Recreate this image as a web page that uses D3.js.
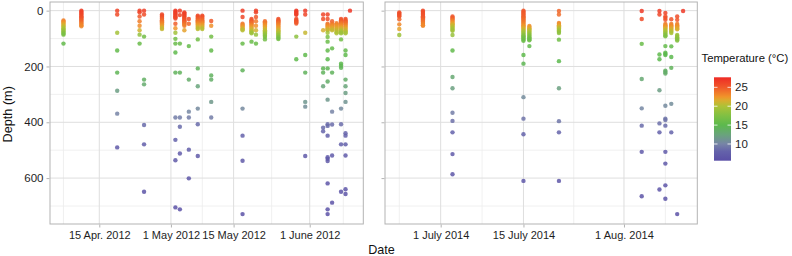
<!DOCTYPE html>
<html><head><meta charset="utf-8">
<script src="https://cdn.jsdelivr.net/npm/d3@7"></script>
<style>
html,body{margin:0;padding:0;background:#fff;}
svg text{font-family:"Liberation Sans",Arial,Helvetica,sans-serif;}
</style></head>
<body><svg id="c" width="792" height="256"></svg>
<script>
// ---------- DATA ----------
const profileDates = [
 "2012-04-07","2012-04-11","2012-04-19","2012-04-24","2012-04-25","2012-04-29","2012-05-02","2012-05-03",
 "2012-05-04","2012-05-05","2012-05-07","2012-05-08","2012-05-10","2012-05-17","2012-05-19","2012-05-20",
 "2012-05-22","2012-05-25","2012-05-29","2012-05-31","2012-06-04","2012-06-05","2012-06-06","2012-06-07",
 "2012-06-08","2012-06-09","2012-06-10",
 "2014-06-24","2014-06-28","2014-07-03","2014-07-15","2014-07-16","2014-07-21","2014-08-04","2014-08-07",
 "2014-08-08","2014-08-09","2014-08-10","2014-08-11"
];
const profileDepths = [
 [35,39,43,47,51,55,59,63,67,71,75,79,83,86,118],
 [0,4,8,12,16,20,24,28,32,36,40,44,48,52,56],
 [0,14,79,143,222,287,369,490],
 [0,6,21,38,54,70,86,118],
 [0,14,93,247,264,410,479,649],
 [14,18,22,26,30,34,38,42,46,50,54,58,62,66],
 [0,4,8,12,16,20,24,28,47,63,79,101,118,150,222,383,463,536,705],
 [0,16,118,222,383,416,512,712],
 [6,10,14,18,22,26,30,34,38,42,46,50,54,70],
 [30,47,127,247,362,383,498,601],
 [18,22,26,30,34,38,42,46,50,54,58,62,66,103,207,271,351,407,521],
 [18,22,26,30,34,38,42,46,50,54,58,62,66],
 [37,54,93,143,232,247,327,383],
 [0,23,47,51,55,59,63,67,70,118,214,351,448,538,729],
 [30,34,38,42,46,50,54,58,62,66,70,74,78,81,111],
 [0,6,23,38,54,70,86,118],
 [38,42,46,50,54,58,62,66,70,74,78,82,86,90,94,103],
 [30,34,38,42,46,50,54,58,62,66,70,74,78,82,86,90,94,98,102],
 [0,4,8,12,15,30,34,38,42,46,93,174],
 [0,14,79,159,222,327,344,521],
 [14,30,70,207,222,271,419,432],
 [14,30,47,51,55,59,63,67,70,79,94,111,143,174,207,254,319,407,413,448,525,531,539,619,712,729],
 [38,47,51,55,59,63,67,70,135,222,362,408,519,688],
 [45,49,53,57,61,65,69,73,77,81],
 [30,34,38,42,46,50,54,58,62,66,70,74,78,81,103,190,197,205,351,407,479,649],
 [30,34,38,42,46,50,54,58,62,66,70,74,78,81,143,159,247,271,295,327,439,448,479,519,640,657],
 [0],
 [6,10,14,18,21,31,49,66,87],
 [0,4,8,12,16,20,24,28,32,36,40,44,48,52,54],
 [21,25,29,33,37,41,45,49,53,57,61,65,69,72,87,143,238,278,366,395,436,514,586],
 [0,4,8,12,16,20,24,28,32,36,40,44,48,52,56,60,64,68,72,76,80,84,88,92,96,100,104,108,159,190,310,387,443,610],
 [55,59,63,67,71,75,79,83,87,91,95,99,103,106,127],
 [1,14,44,48,52,56,60,64,68,72,76,80,104,181,278,396,436,610],
 [1,30,119,245,350,412,506,665],
 [1,14,157,174,285,404,436,641],
 [8,21,26,33,48,52,56,60,64,68,72,76,80,84,88,92,127,151,155,159,215,220,225,341,387,392,412,506,548,626,674],
 [31,48,52,56,60,64,68,72,76,80,128,166,205,334,436],
 [21,33,48,52,56,60,64,67,87,91,95,99,103,107,729],
 [1]
];
const profileTemps = [
 [23.5,23,22.5,22,21.5,21,20.5,20,19.5,19,18.5,18,17.5,17,15.5],
 [26.5,26.4,26.3,26.2,26,25.8,25.6,25.3,25,24.7,24.4,24,23.6,23.2,23],
 [26.2,25.8,19.5,15.5,14.5,12,10,7],
 [26.5,26.2,25,23.5,22.8,21.2,18.5,15.8],
 [26.5,25.8,16.5,13.8,13.2,8.5,7.5,6.3],
 [26,25.8,25.5,25.2,24.8,24.4,24,23.6,23.2,22.8,22.3,21.8,21.3,20.8],
 [26.8,26.7,26.6,26.5,26.4,26.3,26.1,26,24.8,22.5,19.3,16.5,15.8,15.2,14.2,9.5,8,7,6],
 [26.6,26,15.8,14.2,9.5,8.5,7.2,6],
 [26.6,26.5,26.4,26.3,26.1,25.9,25.6,25.3,25,24.6,24.2,23.8,23.4,22],
 [25.8,24.5,15.6,13.5,10.2,9.6,7.5,6.6],
 [26,25.7,25.3,24.9,24.5,24,23.5,23,22.5,22,21.5,21,20.5,16.5,14.3,12.5,10.5,8.5,7],
 [25.9,25.6,25.2,24.8,24.4,24,23.5,23,22.5,22,21.5,21,20.3],
 [25,22.7,16.6,15.5,14,13.6,11.6,9.6],
 [26.6,26,23.8,23.2,22.7,22.2,21.6,21,20.3,15.8,14.3,10.4,8,7,6],
 [25.5,25.2,24.8,24.4,24,23.5,23,22.5,22,21.5,21,20.3,19.6,19,16],
 [26.5,26.2,25,23.6,22.6,21.3,18.7,15.9],
 [24.2,23.8,23.4,23,22.6,22.2,21.8,21.3,20.8,20.3,19.8,19.2,18.7,18.2,17.6,16.6],
 [25.6,25.2,24.8,24.3,23.8,23.4,23,22.6,22.2,21.8,21.3,20.8,20.2,19.6,19,18.4,17.8,17.2,16.6],
 [26.8,26.7,26.6,26.5,26.4,25.8,25.6,25.4,25.2,25,18.2,15.2],
 [26.7,26.2,20.8,15.2,14.2,11.4,10.8,7.1],
 [26.2,25.6,21.4,14.5,14.2,12.6,8.5,8.2],
 [26.2,25.6,24,23.5,23,22.5,22,21.5,21,19.5,17,16,15.5,15,14.5,13.6,11.5,8.6,8.5,8,7.1,7,7,6.5,6.1,6],
 [24.8,23.8,23.3,22.8,22.3,21.8,21.3,20.8,15.6,14.2,10,8.6,7.1,6.2],
 [23.6,23.2,22.8,22.4,22,21.6,21.2,20.8,20.4,20],
 [25.6,25.2,24.8,24.3,23.8,23.3,22.8,22.3,21.8,21.2,20.6,20,19.4,19,16.5,15,14.8,14.5,10.5,8.6,7.6,6.4],
 [25.6,25.3,24.9,24.5,24.1,23.6,23.1,22.6,22.1,21.6,21.1,20.6,20.1,19.7,15.5,15.2,13.6,12.6,12,11.2,8.2,8,7.6,7.1,6.5,6.4],
 [27],
 [25.8,25.7,25.6,25.5,25.4,24.5,23,22,19],
 [25.9,25.8,25.7,25.6,25.5,25.3,25.1,24.9,24.6,24.3,24,23.7,23.4,23.1,23],
 [25.2,25,24.6,24,23.4,22.8,22.2,21.6,21,20.6,20.2,19.8,19.5,19.3,18.8,15.4,13,12.2,9.6,8.8,8,7.1,6.6],
 [25.2,25.1,25,24.9,24.8,24.7,24.6,24.4,24.2,24,23.8,23.5,23.2,22.8,22.4,22,21.5,21,20.4,19.8,19.2,18.6,18,17.5,17,16.6,16.3,16,15.2,14.6,10.6,9,8.1,6.6],
 [22.8,22.3,21.8,21.2,20.6,20,19.4,18.8,18.2,17.6,17.1,16.7,16.4,16.2,15.4],
 [24.5,24.2,23.2,22.7,22.2,21.6,21,20.4,19.8,19.2,18.7,18.2,16.4,15,12.2,9.1,8.1,6.6],
 [26.8,25.8,16,13,10.2,8.5,7.1,6.4],
 [26.6,26,15.2,15,12,8.7,8,6.5],
 [26.2,25.7,25.5,25.2,23.6,23.1,22.6,22.1,21.5,20.9,20.3,19.6,19,18.4,17.8,17.2,15.6,15.2,15.1,15,13.8,13.6,13.5,10.5,9.1,9,8.5,7.1,6.9,6.5,6.4],
 [25.3,23.6,23.2,22.8,22.3,21.8,21.3,20.8,20.3,19.8,15.6,15,14.3,10.7,8.1],
 [25.6,25.1,23.5,23.1,22.7,22.3,21.9,21.5,19.2,18.9,18.6,18.3,18,17.7,6],
 [26.8]
];
const panelYears = ["2012","2014"];
const panelLimits = [["2012-04-03T23:46:00Z","2012-06-12T23:17:00Z"],["2014-06-21T14:00:00Z","2014-08-13T09:36:00Z"]];
const tickDates = [["2012-04-15","2012-05-01","2012-05-15","2012-06-01"],["2014-07-01","2014-07-15","2014-08-01"]];
const tickLabels = [["15 Apr. 2012","1 May 2012","15 May 2012","1 June 2012"],["1 July 2014","15 July 2014","1 Aug. 2014"]];
const minorDates = [["2012-04-07","2012-05-08","2012-05-23T12:00:00Z","2012-06-08T12:00:00Z"],["2014-06-24","2014-07-08","2014-07-23T12:00:00Z","2014-08-08"]];
const depthTicks = [0,200,400,600];
const depthMinor = [100,300,500,700];
const legendTicks = [10,15,20,25];
const tempStops = [5.6,8,10,12.5,15,17.5,20,21.5,22.5,25,27.6];
const colorStops = ["#5a4fa6","#6462aa","#7784a6","#69a47b","#5cb94d","#80c043","#aec236","#d9ae2f","#f0942a","#f0592a","#ee2b25"];

// ---------- LAYOUT ----------
const svg = d3.select("#c");
const panelX = [[50,363.3],[385,697.3]];
const yTop = 2, yBottom = 224;
const y = d3.scaleLinear().domain([-31,764.5]).range([yTop,yBottom]);
const color = d3.scaleLinear().domain(tempStops).range(colorStops).interpolate(d3.interpolateRgb).clamp(true);
const parse = s => new Date(s.length===10 ? s+"T00:00:00Z" : s);
const gridMajor="#dedede", gridMinor="#ececec", border="#b3b3b3";

panelYears.forEach((yr,pi)=>{
  const x = d3.scaleUtc().domain(panelLimits[pi].map(parse)).range(panelX[pi]);
  const g = svg.append("g");
  const [x0,x1]=panelX[pi];
  g.append("rect").attr("x",x0).attr("y",yTop).attr("width",x1-x0).attr("height",yBottom-yTop).attr("fill","#fff");
  depthMinor.forEach(d=>g.append("line").attr("x1",x0).attr("x2",x1).attr("y1",y(d)).attr("y2",y(d)).attr("stroke",gridMinor).attr("stroke-width",0.8));
  minorDates[pi].forEach(d=>g.append("line").attr("x1",x(parse(d))).attr("x2",x(parse(d))).attr("y1",yTop).attr("y2",yBottom).attr("stroke",gridMinor).attr("stroke-width",0.8));
  depthTicks.forEach(d=>g.append("line").attr("x1",x0).attr("x2",x1).attr("y1",y(d)).attr("y2",y(d)).attr("stroke",gridMajor).attr("stroke-width",1));
  tickDates[pi].forEach(d=>g.append("line").attr("x1",x(parse(d))).attr("x2",x(parse(d))).attr("y1",yTop).attr("y2",yBottom).attr("stroke",gridMajor).attr("stroke-width",1));
  const pts=[];
  profileDates.forEach((dt,i)=>{
    if(dt.slice(0,4)!==yr) return;
    profileDepths[i].forEach((dep,j)=>pts.push({date:parse(dt),depth:dep,temp:profileTemps[i][j]}));
  });
  g.selectAll("circle").data(pts).join("circle")
    .attr("cx",d=>x(d.date)).attr("cy",d=>y(d.depth)).attr("r",2.2)
    .attr("fill",d=>color(d.temp)).attr("fill-opacity",0.85);
  g.append("rect").attr("x",x0).attr("y",yTop).attr("width",x1-x0).attr("height",yBottom-yTop).attr("fill","none").attr("stroke",border).attr("stroke-width",1);
  const xa = d3.axisBottom(x).tickValues(tickDates[pi].map(parse)).tickFormat((d,i)=>tickLabels[pi][i]).tickSize(3).tickPadding(4);
  const gx = svg.append("g").attr("transform",`translate(0,${yBottom+0.5})`).call(xa);
  gx.select(".domain").remove();
  gx.selectAll("line").attr("stroke",border);
  gx.selectAll("text").attr("fill","#1e1e1e").style("font-size","11px");
  const ya = d3.axisLeft(y).tickValues(depthTicks).tickSize(3).tickPadding(3).tickFormat(pi===0?d3.format("d"):()=> "");
  const gy = svg.append("g").attr("transform",`translate(${x0-0.5},0)`).call(ya);
  gy.select(".domain").remove();
  gy.selectAll("line").attr("stroke",border);
  gy.selectAll("text").attr("fill","#1e1e1e").style("font-size","11.5px");
});

svg.append("text").attr("x",381.5).attr("y",254).attr("text-anchor","middle").style("font-size","12.6px").attr("fill","#111").text("Date");
svg.append("text").attr("transform","translate(11.8,114.3) rotate(-90)").attr("text-anchor","middle").style("font-size","12.7px").attr("fill","#111").text("Depth (m)");

const lg = svg.append("g");
lg.append("text").attr("x",701.5).attr("y",62).style("font-size","11.3px").attr("fill","#111").text("Temperature (°C)");
const ly = d3.scaleLinear().domain([5.58,27.65]).range([160.7,77.3]);
const defs = svg.append("defs");
const grad = defs.append("linearGradient").attr("id","tg").attr("x1",0).attr("y1",1).attr("x2",0).attr("y2",0);
tempStops.forEach((t,i)=>grad.append("stop").attr("offset",(t-5.58)/(27.65-5.58)).attr("stop-color",colorStops[i]));
lg.append("rect").attr("x",714).attr("y",77.3).attr("width",17).attr("height",83.4).attr("fill","url(#tg)");
legendTicks.forEach(t=>{
  lg.append("line").attr("x1",714).attr("x2",717.5).attr("y1",ly(t)).attr("y2",ly(t)).attr("stroke","#fff").attr("stroke-opacity",0.8);
  lg.append("line").attr("x1",727.5).attr("x2",731).attr("y1",ly(t)).attr("y2",ly(t)).attr("stroke","#fff").attr("stroke-opacity",0.8);
  lg.append("text").attr("x",735).attr("y",ly(t)).attr("dy","0.36em").style("font-size","11.5px").attr("fill","#1e1e1e").text(t);
});
</script></body></html>
